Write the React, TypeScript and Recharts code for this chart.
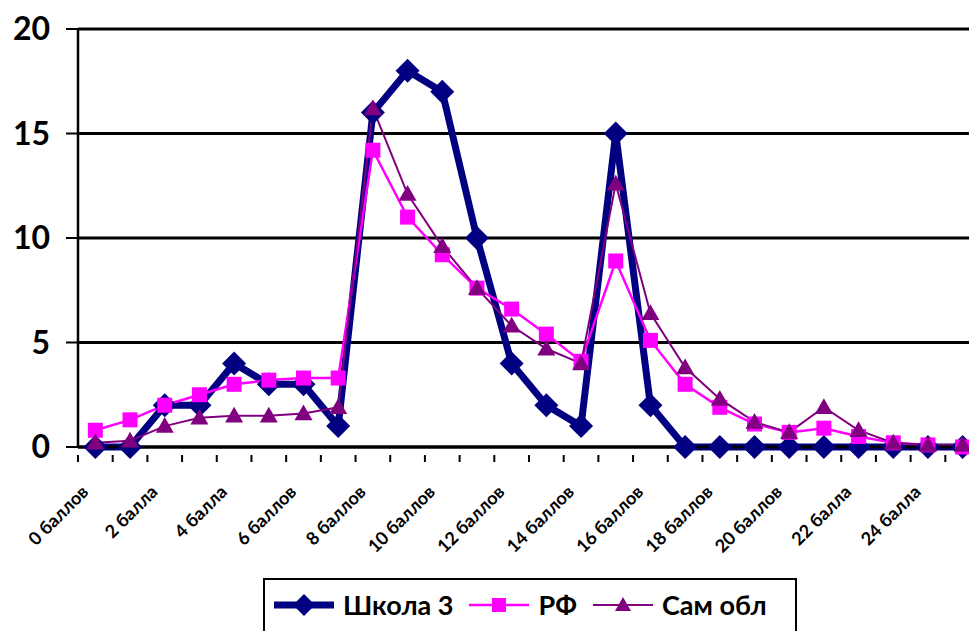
import React from 'react';
import { LineChart, Line, XAxis, YAxis, CartesianGrid } from 'recharts';

const categories = [
  '0 баллов', '1 балл', '2 балла', '3 балла', '4 балла', '5 баллов', '6 баллов',
  '7 баллов', '8 баллов', '9 баллов', '10 баллов', '11 баллов', '12 баллов',
  '13 баллов', '14 баллов', '15 баллов', '16 баллов', '17 баллов', '18 баллов',
  '19 баллов', '20 баллов', '21 балл', '22 балла', '23 балла', '24 балла', '25 баллов',
];
const school3 = [0, 0, 2, 2, 4, 3, 3, 1, 16, 18, 17, 10, 4, 2, 1, 15, 2, 0, 0, 0, 0, 0, 0, 0, 0, 0];
const rf = [0.8, 1.3, 2.0, 2.5, 3.0, 3.2, 3.3, 3.3, 14.2, 11.0, 9.2, 7.6, 6.6, 5.4, 4.1, 8.9, 5.1, 3.0, 1.9, 1.1, 0.7, 0.9, 0.5, 0.2, 0.1, 0.0];
const samObl = [0.2, 0.3, 1.0, 1.4, 1.5, 1.5, 1.6, 1.9, 16.2, 12.1, 9.6, 7.6, 5.8, 4.7, 4.0, 12.6, 6.4, 3.8, 2.3, 1.2, 0.7, 1.9, 0.8, 0.2, 0.1, 0.1];
const yTicks = [0, 5, 10, 15, 20];

const data = categories.map((name, i) => ({
  x: i,
  name,
  school3: school3[i],
  rf: rf[i],
  samObl: samObl[i],
}));

// tick marks sit between categories, labels on every second category
const xTicks: number[] = [];
for (let i = 0; i <= categories.length; i++) {
  xTicks.push(i - 0.5);
  if (i < categories.length && i % 2 === 0) xTicks.push(i);
}

const FONT = 'Lato, "Open Sans", sans-serif';
const NAVY = '#000080';
const MAGENTA = '#FF00FF';
const PURPLE = '#800080';

const XTick = (props: any) => {
  const { x, y, payload } = props;
  const v = payload.value as number;
  if (!Number.isInteger(v)) {
    return <line x1={x} y1={y} x2={x} y2={y + 7} stroke="#000" strokeWidth={2} />;
  }
  const tx = x - 6;
  const ty = y + 38;
  return (
    <text
      x={tx}
      y={ty}
      transform={`rotate(-45 ${tx} ${ty})`}
      textAnchor="end"
      fontFamily={FONT}
      fontWeight="bold"
      fontSize={18}
      fill="#000"
    >
      {categories[v]}
    </text>
  );
};

const Diamond = ({ px, py, size }: { px: number; py: number; size: number }) => (
  <polygon points={`${px},${py - size} ${px + size},${py} ${px},${py + size} ${px - size},${py}`} fill={NAVY} />
);
const Square = ({ px, py, size }: { px: number; py: number; size: number }) => (
  <rect x={px - size} y={py - size} width={size * 2} height={size * 2} fill={MAGENTA} />
);
const Triangle = ({ px, py, size }: { px: number; py: number; size: number }) => (
  <polygon points={`${px},${py - size} ${px + size},${py + size * 0.75} ${px - size},${py + size * 0.75}`} fill={PURPLE} />
);

const diamondDot = (p: any) => <Diamond key={`d${p.index}`} px={p.cx} py={p.cy} size={12} />;
const squareDot = (p: any) => <Square key={`s${p.index}`} px={p.cx} py={p.cy} size={7.5} />;
const triangleDot = (p: any) => <Triangle key={`t${p.index}`} px={p.cx} py={p.cy} size={9} />;

const LegendItem = ({ color, width, marker, label }: any) => (
  <div style={{ display: 'flex', alignItems: 'center', marginRight: 16 }}>
    <svg width={60} height={30} style={{ marginRight: 9 }}>
      <line x1={0} y1={15} x2={60} y2={15} stroke={color} strokeWidth={width} />
      {marker === 'diamond' && <Diamond px={30} py={15} size={11} />}
      {marker === 'square' && <Square px={30} py={15} size={7} />}
      {marker === 'triangle' && <Triangle px={30} py={15} size={8} />}
    </svg>
    <span>{label}</span>
  </div>
);

export default function App() {
  return (
    <div style={{ position: 'absolute', left: 0, top: 0, width: 1000, height: 640, overflow: 'hidden', background: '#fff' }}>
      <LineChart width={1000} height={640} data={data} margin={{ top: 29, right: 20, bottom: 133, left: 0 }}>
        <CartesianGrid vertical={false} stroke="#000" strokeWidth={3} horizontalValues={yTicks} />
        <XAxis
          dataKey="x"
          type="number"
          domain={[-0.5, categories.length - 0.5]}
          ticks={xTicks}
          interval={0}
          tick={<XTick />}
          tickLine={false}
          axisLine={{ stroke: '#000', strokeWidth: 3 }}
          height={60}
        />
        <YAxis
          domain={[0, 20]}
          ticks={yTicks}
          width={78}
          tickSize={12}
          tickLine={{ stroke: '#000', strokeWidth: 2 }}
          axisLine={{ stroke: '#000', strokeWidth: 2.5 }}
          tick={{ fill: '#000', fontSize: 32, fontWeight: 'bold', fontFamily: FONT, dx: -14 }}
        />
        <Line dataKey="school3" stroke={NAVY} strokeWidth={7} dot={diamondDot} isAnimationActive={false} />
        <Line dataKey="rf" stroke={MAGENTA} strokeWidth={2.5} dot={squareDot} isAnimationActive={false} />
        <Line dataKey="samObl" stroke={PURPLE} strokeWidth={2} dot={triangleDot} isAnimationActive={false} />
      </LineChart>
      <div
        style={{
          position: 'absolute',
          left: 263,
          top: 578,
          width: 534,
          height: 70,
          border: '2px solid #000',
          background: '#fff',
          display: 'flex',
          alignItems: 'flex-start',
          paddingTop: 8,
          paddingLeft: 9,
          boxSizing: 'border-box',
          fontFamily: FONT,
          fontWeight: 'bold',
          fontSize: 27,
          color: '#000',
        }}
      >
        <LegendItem color={NAVY} width={7} marker="diamond" label="Школа 3" />
        <LegendItem color={MAGENTA} width={2.5} marker="square" label="РФ" />
        <LegendItem color={PURPLE} width={2} marker="triangle" label="Сам обл" />
      </div>
    </div>
  );
}
